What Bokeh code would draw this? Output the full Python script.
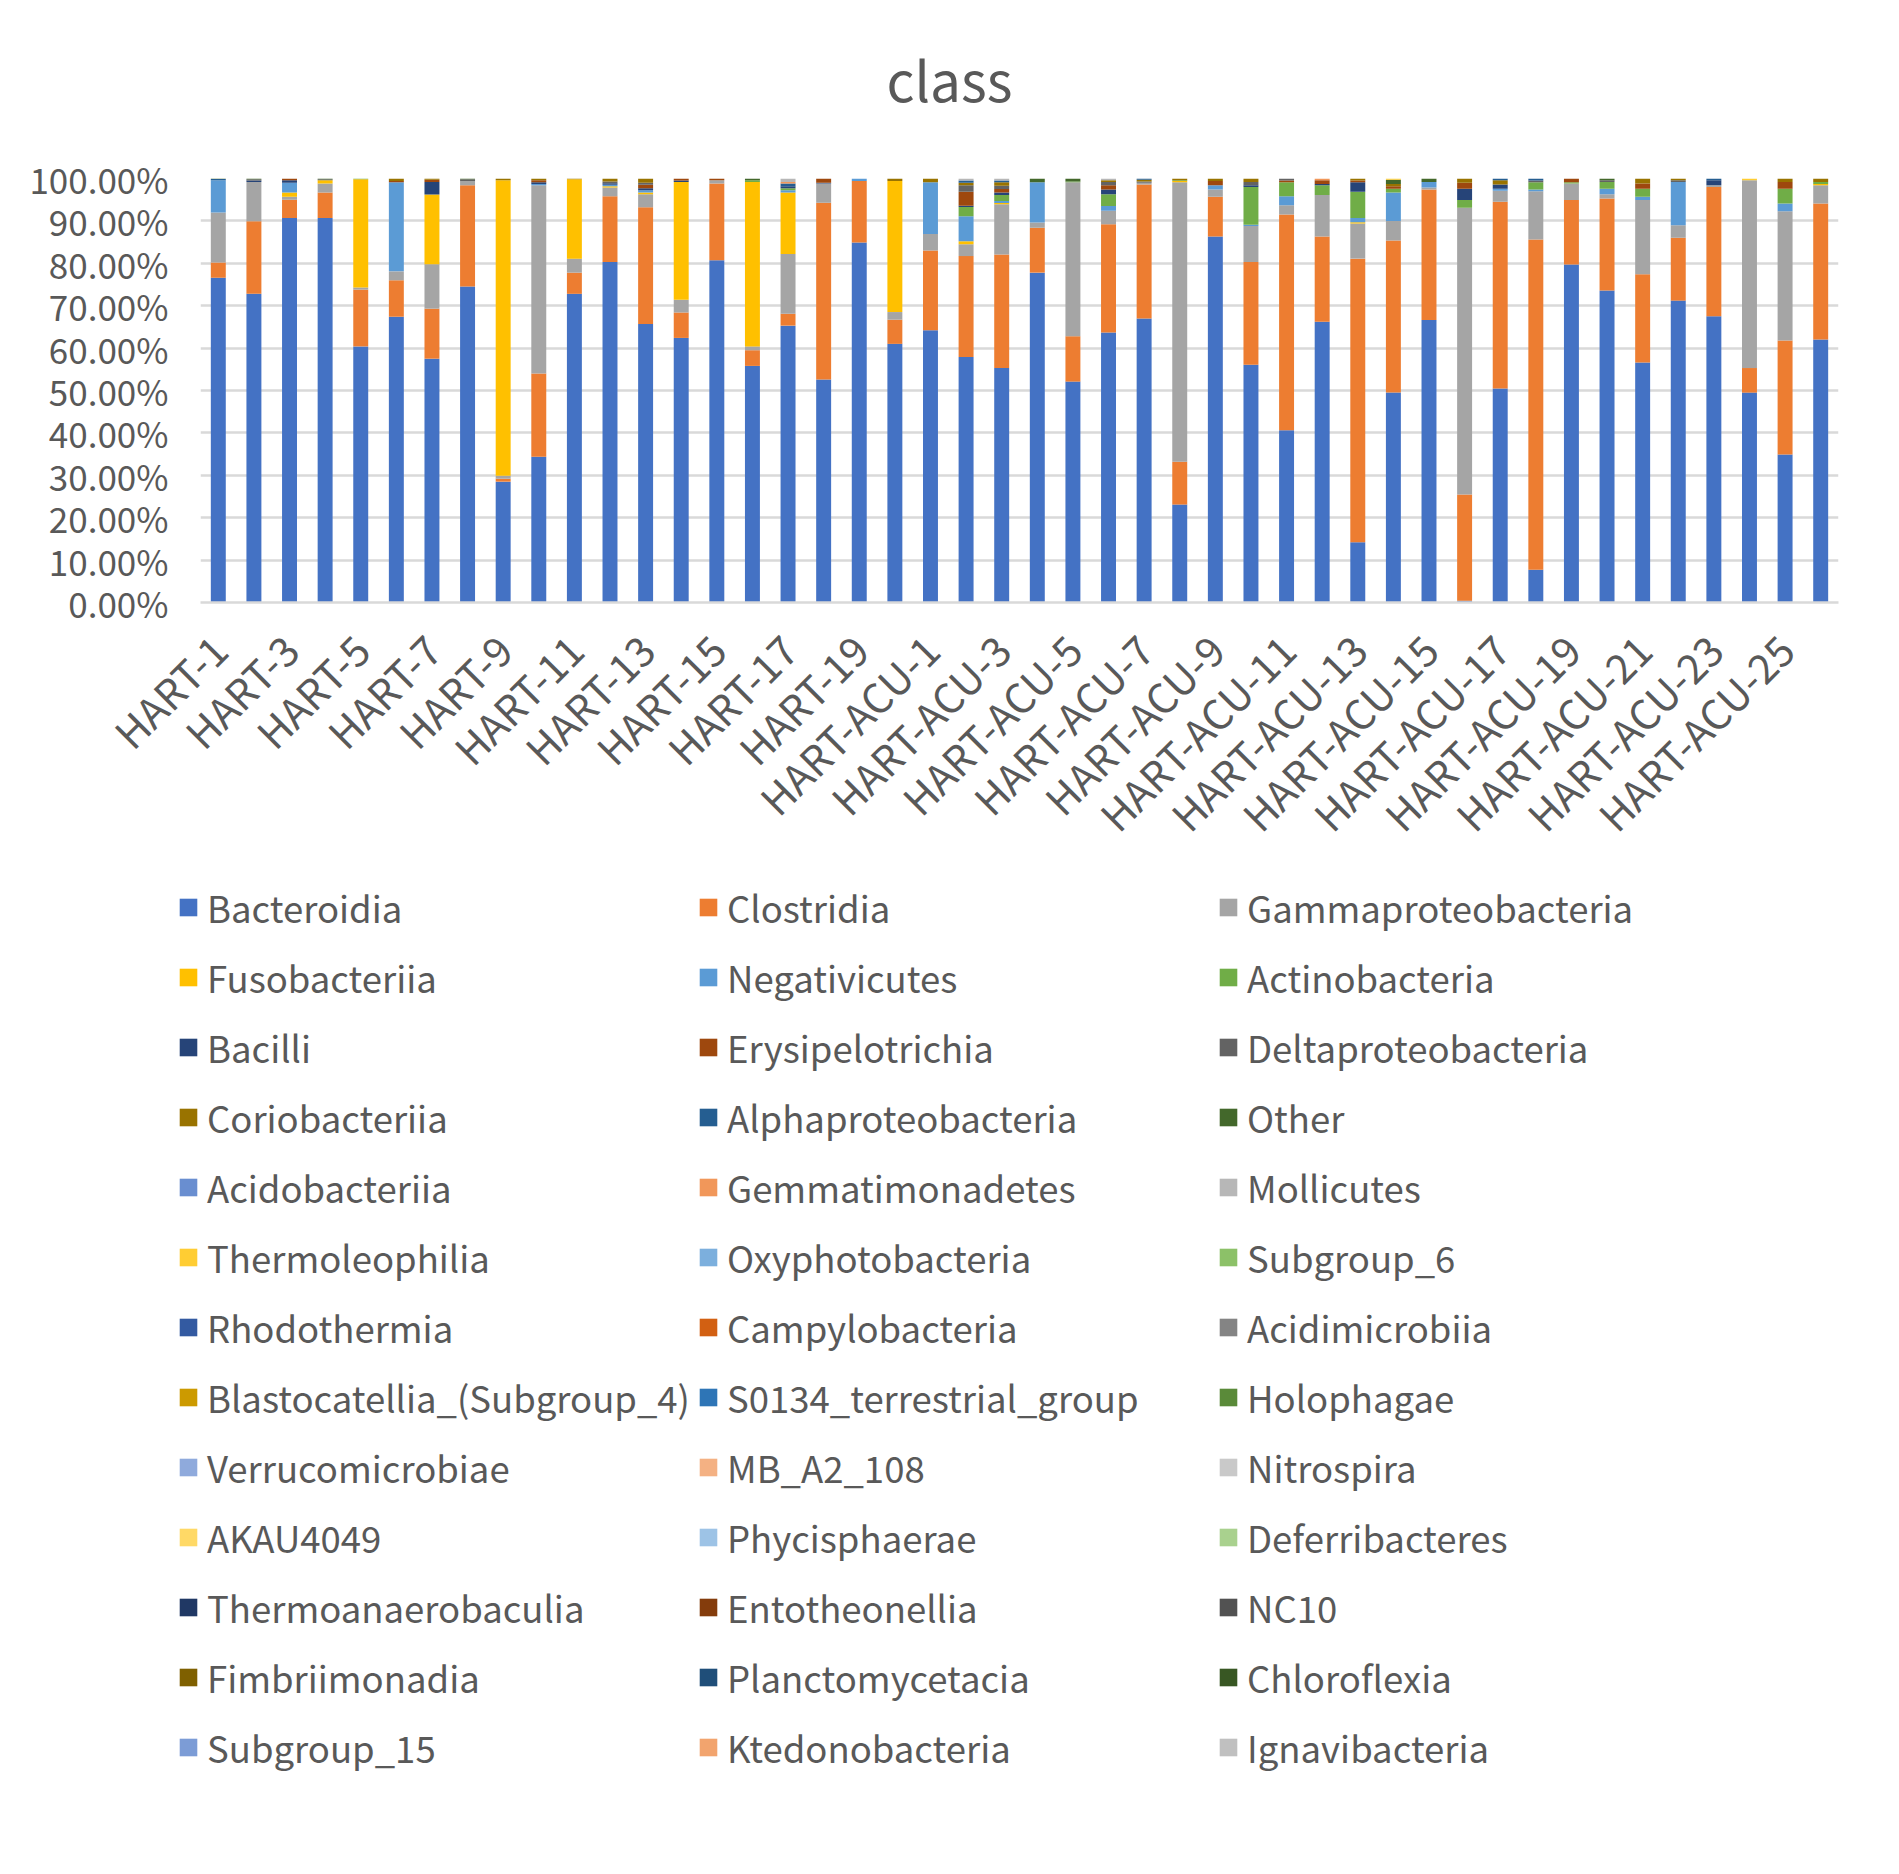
from bokeh.plotting import figure
from bokeh.models import (ColumnDataSource, Range1d, FixedTicker,
                          PrintfTickFormatter, Legend, LegendItem, Label)
from bokeh.embed import file_html
from bokeh.resources import INLINE
from math import pi

FONT = "Noto Sans CJK SC"
TXT = "#595959"
W = 1899

samples = ["HART-1", "HART-2", "HART-3", "HART-4", "HART-5", "HART-6", "HART-7",
           "HART-8", "HART-9", "HART-10", "HART-11", "HART-12", "HART-13", "HART-14",
           "HART-15", "HART-16", "HART-17", "HART-18", "HART-19", "HART-20",
           "HART-ACU-1", "HART-ACU-2", "HART-ACU-3", "HART-ACU-4", "HART-ACU-5",
           "HART-ACU-6", "HART-ACU-7", "HART-ACU-8", "HART-ACU-9", "HART-ACU-10",
           "HART-ACU-11", "HART-ACU-12", "HART-ACU-13", "HART-ACU-14", "HART-ACU-15",
           "HART-ACU-16", "HART-ACU-17", "HART-ACU-18", "HART-ACU-19", "HART-ACU-20",
           "HART-ACU-21", "HART-ACU-22", "HART-ACU-23", "HART-ACU-24", "HART-ACU-25",
           "HART-ACU-26"]
# only every other sample is labelled on the axis
labelled = ["HART-1", "HART-3", "HART-5", "HART-7", "HART-9", "HART-11", "HART-13",
            "HART-15", "HART-17", "HART-19", "HART-ACU-1", "HART-ACU-3", "HART-ACU-5",
            "HART-ACU-7", "HART-ACU-9", "HART-ACU-11", "HART-ACU-13", "HART-ACU-15",
            "HART-ACU-17", "HART-ACU-19", "HART-ACU-21", "HART-ACU-23", "HART-ACU-25"]
y_ticks = [0, 10, 20, 30, 40, 50, 60, 70, 80, 90, 100]

# relative abundance (%) per sample
Bacteroidia = [76.6, 72.8, 90.7, 90.7, 60.4, 67.4, 57.5, 74.5, 28.5, 34.4, 72.8, 80.3, 65.7, 62.4, 80.7, 55.8, 65.3, 52.6, 84.9, 61.0, 64.2, 57.9, 55.3,
               77.8, 52.1, 63.7, 67.0, 23.1, 86.3, 56.1, 40.6, 66.2, 14.2, 49.5, 66.6, 0.4, 50.5, 7.7, 79.7, 73.6, 56.6, 71.2, 67.5, 49.5, 34.9, 62.0]
Clostridia = [3.6, 17.1, 4.3, 6.0, 13.4, 8.6, 11.8, 23.9, 0.7, 19.6, 5.0, 15.5, 27.5, 6.0, 18.1, 3.7, 2.8, 41.7, 14.5, 5.7, 18.8, 23.8, 26.8,
              10.6, 10.7, 25.5, 31.6, 10.1, 9.4, 24.2, 50.9, 20.1, 66.9, 35.9, 30.8, 25.1, 44.0, 77.9, 15.2, 21.7, 20.8, 14.8, 30.5, 5.8, 26.9, 32.1]
Gammaproteobacteria = [11.8, 9.3, 0.7, 2.1, 0.5, 2.1, 10.5, 1.0, 0.7, 44.4, 3.3, 2.1, 3.1, 3.0, 0.8, 0.9, 14.1, 4.5, 0.0, 1.8, 3.9, 2.8, 11.8,
                       1.2, 36.3, 3.2, 0.4, 65.9, 1.7, 8.5, 2.2, 9.8, 8.3, 4.6, 0.5, 67.6, 2.6, 11.4, 3.9, 1.0, 17.5, 3.0, 0.4, 44.3, 30.5, 4.3]
Fusobacteriia = [0.0, 0.0, 1.0, 0.8, 25.5, 0.0, 16.4, 0.0, 69.7, 0.0, 18.7, 0.3, 0.4, 27.8, 0.0, 38.8, 14.5, 0.0, 0.0, 30.9, 0.0, 0.7, 0.3,
                 0.0, 0.0, 0.0, 0.0, 0.3, 0.0, 0.0, 0.0, 0.0, 0.3, 0.0, 0.0, 0.0, 0.0, 0.0, 0.0, 0.0, 0.0, 0.0, 0.0, 0.0, 0.0, 0.3]
Negativicutes = [7.6, 0.0, 2.3, 0.0, 0.0, 21.0, 0.0, 0.0, 0.0, 0.3, 0.0, 0.3, 0.5, 0.0, 0.0, 0.0, 0.5, 0.0, 0.6, 0.0, 12.2, 5.9, 0.5,
                 9.5, 0.0, 1.1, 0.0, 0.0, 1.0, 0.3, 2.1, 0.0, 1.0, 6.7, 1.3, 0.0, 0.5, 0.4, 0.0, 1.3, 0.8, 10.2, 0.0, 0.0, 1.8, 0.0]
Actinobacteria = [0.0, 0.0, 0.0, 0.0, 0.2, 0.0, 0.0, 0.0, 0.0, 0.0, 0.0, 0.0, 0.0, 0.0, 0.0, 0.4, 0.5, 0.0, 0.0, 0.0, 0.0, 2.2, 1.4,
                  0.0, 0.2, 2.8, 0.0, 0.2, 0.0, 8.9, 3.3, 2.3, 6.2, 0.9, 0.0, 1.8, 0.0, 1.7, 0.3, 1.6, 1.9, 0.0, 0.0, 0.0, 3.5, 0.5]
Bacilli = [0.0, 0.3, 0.6, 0.0, 0.0, 0.0, 3.0, 0.0, 0.0, 0.4, 0.0, 0.4, 0.5, 0.3, 0.0, 0.0, 0.5, 0.2, 0.0, 0.0, 0.0, 0.3, 0.6,
           0.0, 0.0, 1.1, 0.0, 0.0, 0.0, 0.4, 0.0, 0.3, 2.2, 0.0, 0.0, 2.7, 1.0, 0.0, 0.0, 0.0, 0.0, 0.0, 1.2, 0.0, 0.0, 0.0]
Erysipelotrichia = [0.0, 0.0, 0.4, 0.0, 0.0, 0.3, 0.5, 0.0, 0.0, 0.5, 0.0, 0.0, 0.8, 0.5, 0.4, 0.0, 0.0, 1.0, 0.0, 0.0, 0.0, 3.3, 0.8,
                    0.0, 0.0, 1.0, 0.0, 0.0, 1.0, 0.0, 0.4, 0.9, 0.4, 0.6, 0.0, 1.4, 0.0, 0.0, 0.9, 0.0, 1.2, 0.0, 0.0, 0.0, 1.6, 0.0]
Deltaproteobacteria = [0.0, 0.3, 0.0, 0.2, 0.0, 0.0, 0.0, 0.4, 0.0, 0.0, 0.0, 0.4, 0.5, 0.0, 0.0, 0.0, 0.0, 0.0, 0.0, 0.0, 0.0, 1.5, 0.8,
                       0.0, 0.0, 0.8, 0.3, 0.0, 0.0, 0.8, 0.5, 0.0, 0.0, 0.0, 0.0, 0.0, 0.0, 0.4, 0.0, 0.4, 0.0, 0.4, 0.0, 0.0, 0.0, 0.0]
Coriobacteriia = [0.0, 0.0, 0.0, 0.0, 0.0, 0.6, 0.3, 0.0, 0.4, 0.4, 0.2, 0.7, 1.0, 0.0, 0.0, 0.0, 0.0, 0.0, 0.0, 0.6, 0.9, 0.6, 0.8,
                  0.0, 0.0, 0.4, 0.4, 0.4, 0.6, 0.8, 0.0, 0.0, 0.5, 0.5, 0.0, 1.0, 1.0, 0.0, 0.0, 0.0, 1.2, 0.4, 0.0, 0.0, 0.8, 0.8]
Alphaproteobacteria = [0.3, 0.0, 0.0, 0.0, 0.0, 0.0, 0.0, 0.0, 0.0, 0.0, 0.0, 0.0, 0.0, 0.0, 0.0, 0.0, 0.6, 0.0, 0.0, 0.0, 0.0, 0.5, 0.4,
                       0.0, 0.0, 0.0, 0.3, 0.0, 0.0, 0.0, 0.0, 0.0, 0.0, 0.0, 0.0, 0.0, 0.4, 0.5, 0.0, 0.0, 0.0, 0.0, 0.4, 0.0, 0.0, 0.0]
Other = [0.1, 0.2, 0.0, 0.2, 0.0, 0.0, 0.0, 0.2, 0.0, 0.0, 0.0, 0.0, 0.0, 0.0, 0.0, 0.4, 0.0, 0.0, 0.0, 0.0, 0.0, 0.0, 0.0,
         0.9, 0.7, 0.0, 0.0, 0.0, 0.0, 0.0, 0.0, 0.0, 0.0, 1.0, 0.8, 0.0, 0.0, 0.0, 0.0, 0.4, 0.0, 0.0, 0.0, 0.0, 0.0, 0.0]
Gemmatimonadetes = [0.0, 0.0, 0.0, 0.0, 0.0, 0.0, 0.0, 0.0, 0.0, 0.0, 0.0, 0.0, 0.0, 0.0, 0.0, 0.0, 0.4, 0.0, 0.0, 0.0, 0.0, 0.0, 0.0,
                    0.0, 0.0, 0.0, 0.0, 0.0, 0.0, 0.0, 0.0, 0.4, 0.0, 0.0, 0.0, 0.0, 0.0, 0.0, 0.0, 0.0, 0.0, 0.0, 0.0, 0.0, 0.0, 0.0]
Mollicutes = [0.0, 0.0, 0.0, 0.0, 0.0, 0.0, 0.0, 0.0, 0.0, 0.0, 0.0, 0.0, 0.0, 0.0, 0.0, 0.0, 0.8, 0.0, 0.0, 0.0, 0.0, 0.5, 0.5,
              0.0, 0.0, 0.4, 0.0, 0.0, 0.0, 0.0, 0.0, 0.0, 0.0, 0.0, 0.0, 0.0, 0.0, 0.0, 0.0, 0.0, 0.0, 0.0, 0.0, 0.0, 0.0, 0.0]
Thermoleophilia = [0.0, 0.0, 0.0, 0.0, 0.0, 0.0, 0.0, 0.0, 0.0, 0.0, 0.0, 0.0, 0.0, 0.0, 0.0, 0.0, 0.0, 0.0, 0.0, 0.0, 0.0, 0.0, 0.0,
                   0.0, 0.0, 0.0, 0.0, 0.0, 0.0, 0.0, 0.0, 0.0, 0.0, 0.3, 0.0, 0.0, 0.0, 0.0, 0.0, 0.0, 0.0, 0.0, 0.0, 0.4, 0.0, 0.0]
# remaining classes are below the visible resolution of the chart
trace = [0.0, 0.0, 0.0, 0.0, 0.0, 0.0, 0.0, 0.0, 0.0, 0.0, 0.0, 0.0, 0.0, 0.0, 0.0, 0.0, 0.0, 0.0, 0.0, 0.0, 0.0, 0.0, 0.0,
         0.0, 0.0, 0.0, 0.0, 0.0, 0.0, 0.0, 0.0, 0.0, 0.0, 0.0, 0.0, 0.0, 0.0, 0.0, 0.0, 0.0, 0.0, 0.0, 0.0, 0.0, 0.0, 0.0]

classes = ["Bacteroidia", "Clostridia", "Gammaproteobacteria", "Fusobacteriia", "Negativicutes",
           "Actinobacteria", "Bacilli", "Erysipelotrichia", "Deltaproteobacteria", "Coriobacteriia",
           "Alphaproteobacteria", "Other", "Acidobacteriia", "Gemmatimonadetes", "Mollicutes",
           "Thermoleophilia", "Oxyphotobacteria", "Subgroup_6", "Rhodothermia", "Campylobacteria",
           "Acidimicrobiia", "Blastocatellia_(Subgroup_4)", "S0134_terrestrial_group", "Holophagae",
           "Verrucomicrobiae", "MB_A2_108", "Nitrospira", "AKAU4049", "Phycisphaerae", "Deferribacteres",
           "Thermoanaerobaculia", "Entotheonellia", "NC10", "Fimbriimonadia", "Planctomycetacia",
           "Chloroflexia", "Subgroup_15", "Ktedonobacteria", "Ignavibacteria"]
colors = ["#4472C4", "#ED7D31", "#A5A5A5", "#FFC000", "#5B9BD5", "#70AD47",
          "#264478", "#9E480E", "#636363", "#997300", "#255E91", "#43682B",
          "#698ED0", "#F1975A", "#B7B7B7", "#FFCD33", "#7CAFDD", "#8CC168",
          "#335AA1", "#D26012", "#848484", "#CC9A00", "#2E75B6", "#5A8A39",
          "#8FAADC", "#F4B183", "#C9C9C9", "#FFD966", "#9DC3E6", "#A9D18E",
          "#203864", "#843C0C", "#525252", "#7F6000", "#1F4E79", "#385723",
          "#7C9CD6", "#F2A46E", "#C0C0C0"]

values = {
    "Bacteroidia": Bacteroidia, "Clostridia": Clostridia,
    "Gammaproteobacteria": Gammaproteobacteria, "Fusobacteriia": Fusobacteriia,
    "Negativicutes": Negativicutes, "Actinobacteria": Actinobacteria, "Bacilli": Bacilli,
    "Erysipelotrichia": Erysipelotrichia, "Deltaproteobacteria": Deltaproteobacteria,
    "Coriobacteriia": Coriobacteriia, "Alphaproteobacteria": Alphaproteobacteria,
    "Other": Other, "Gemmatimonadetes": Gemmatimonadetes, "Mollicutes": Mollicutes,
    "Thermoleophilia": Thermoleophilia,
}
positions = [i + 1 for i in range(len(samples))]
data = {"sample": samples, "pos": positions}
for c in classes:
    data[c] = list(values.get(c, trace))
source = ColumnDataSource(data)


def blank(height):
    f = figure(width=W, height=height, output_backend="svg", toolbar_location=None,
               x_range=Range1d(0, 1), y_range=Range1d(0, 1), min_border=0,
               x_axis_type=None, y_axis_type=None, title=None,
               background_fill_color="white", border_fill_color="white")
    f.outline_line_color = None
    f.grid.visible = False
    return f


# ---------------- title ----------------
TH = 148
pt = blank(TH)
pt.add_layout(Label(x=949, y=71, x_units="screen", y_units="screen", text="class",
                    text_font=FONT, text_font_size="55px", text_color=TXT,
                    text_align="center", text_baseline="alphabetic"))

# ---------------- chart ----------------
p = figure(x_range=Range1d(0.5, len(samples) + 0.5), y_range=Range1d(0, 100),
           width=W, height=30 + 424 + 270, output_backend="svg", toolbar_location=None,
           min_border_left=200, min_border_right=61, min_border_top=30,
           min_border_bottom=270, background_fill_color="white",
           border_fill_color="white", title=None)
p.outline_line_color = None

renderers = p.vbar_stack(classes, x="pos", width=0.42, fill_color=colors,
                         line_color=None, source=source)

p.yaxis.ticker = FixedTicker(ticks=y_ticks)
p.yaxis.formatter = PrintfTickFormatter(format="%.2f%%")
p.yaxis.axis_line_color = None
p.yaxis.major_tick_line_color = None
p.yaxis.minor_tick_line_color = None
p.yaxis.major_tick_out = 0
p.yaxis.major_tick_in = 0
p.yaxis.major_label_standoff = 32
p.yaxis.major_label_text_font = FONT
p.yaxis.major_label_text_font_size = "35px"
p.yaxis.major_label_text_color = TXT

p.ygrid.grid_line_color = "#D9D9D9"
p.ygrid.grid_line_width = 2.5
p.xgrid.grid_line_color = None

label_pos = [positions[samples.index(s)] for s in labelled]
p.xaxis.ticker = FixedTicker(ticks=label_pos)
p.xaxis.major_label_overrides = {k: s for k, s in zip(label_pos, labelled)}
p.xaxis.axis_line_color = "#D9D9D9"
p.xaxis.axis_line_width = 2.5
p.xaxis.major_tick_line_color = None
p.xaxis.minor_tick_line_color = None
p.xaxis.major_tick_out = 0
p.xaxis.major_tick_in = 0
p.xaxis.major_label_orientation = pi / 4
p.xaxis.major_label_standoff = 39
p.xaxis.major_label_text_font = FONT
p.xaxis.major_label_text_font_size = "41px"
p.xaxis.major_label_text_color = TXT

# ---------------- legend ----------------
LH = 998
p2 = blank(LH)
p2.x_range = Range1d(-3, -2)   # legend panel: the stacked bars sit outside its view
proxies = p2.vbar_stack(classes, x="pos", width=0.42, fill_color=colors,
                        line_color=None, source=source)

items = [LegendItem(label=c, renderers=[r]) for c, r in zip(classes, proxies)]
legend = Legend(items=items, location=(177, LH - 910), orientation="horizontal", ncols=3,
                glyph_width=22, glyph_height=22, label_standoff=8,
                label_width=490, label_height=70, spacing=0, padding=0, margin=0,
                border_line_color=None, background_fill_alpha=0,
                label_text_font=FONT, label_text_font_size="36.5px",
                label_text_color=TXT)
p2.add_layout(legend)

open("out.html", "w").write(file_html([pt, p, p2], INLINE))
